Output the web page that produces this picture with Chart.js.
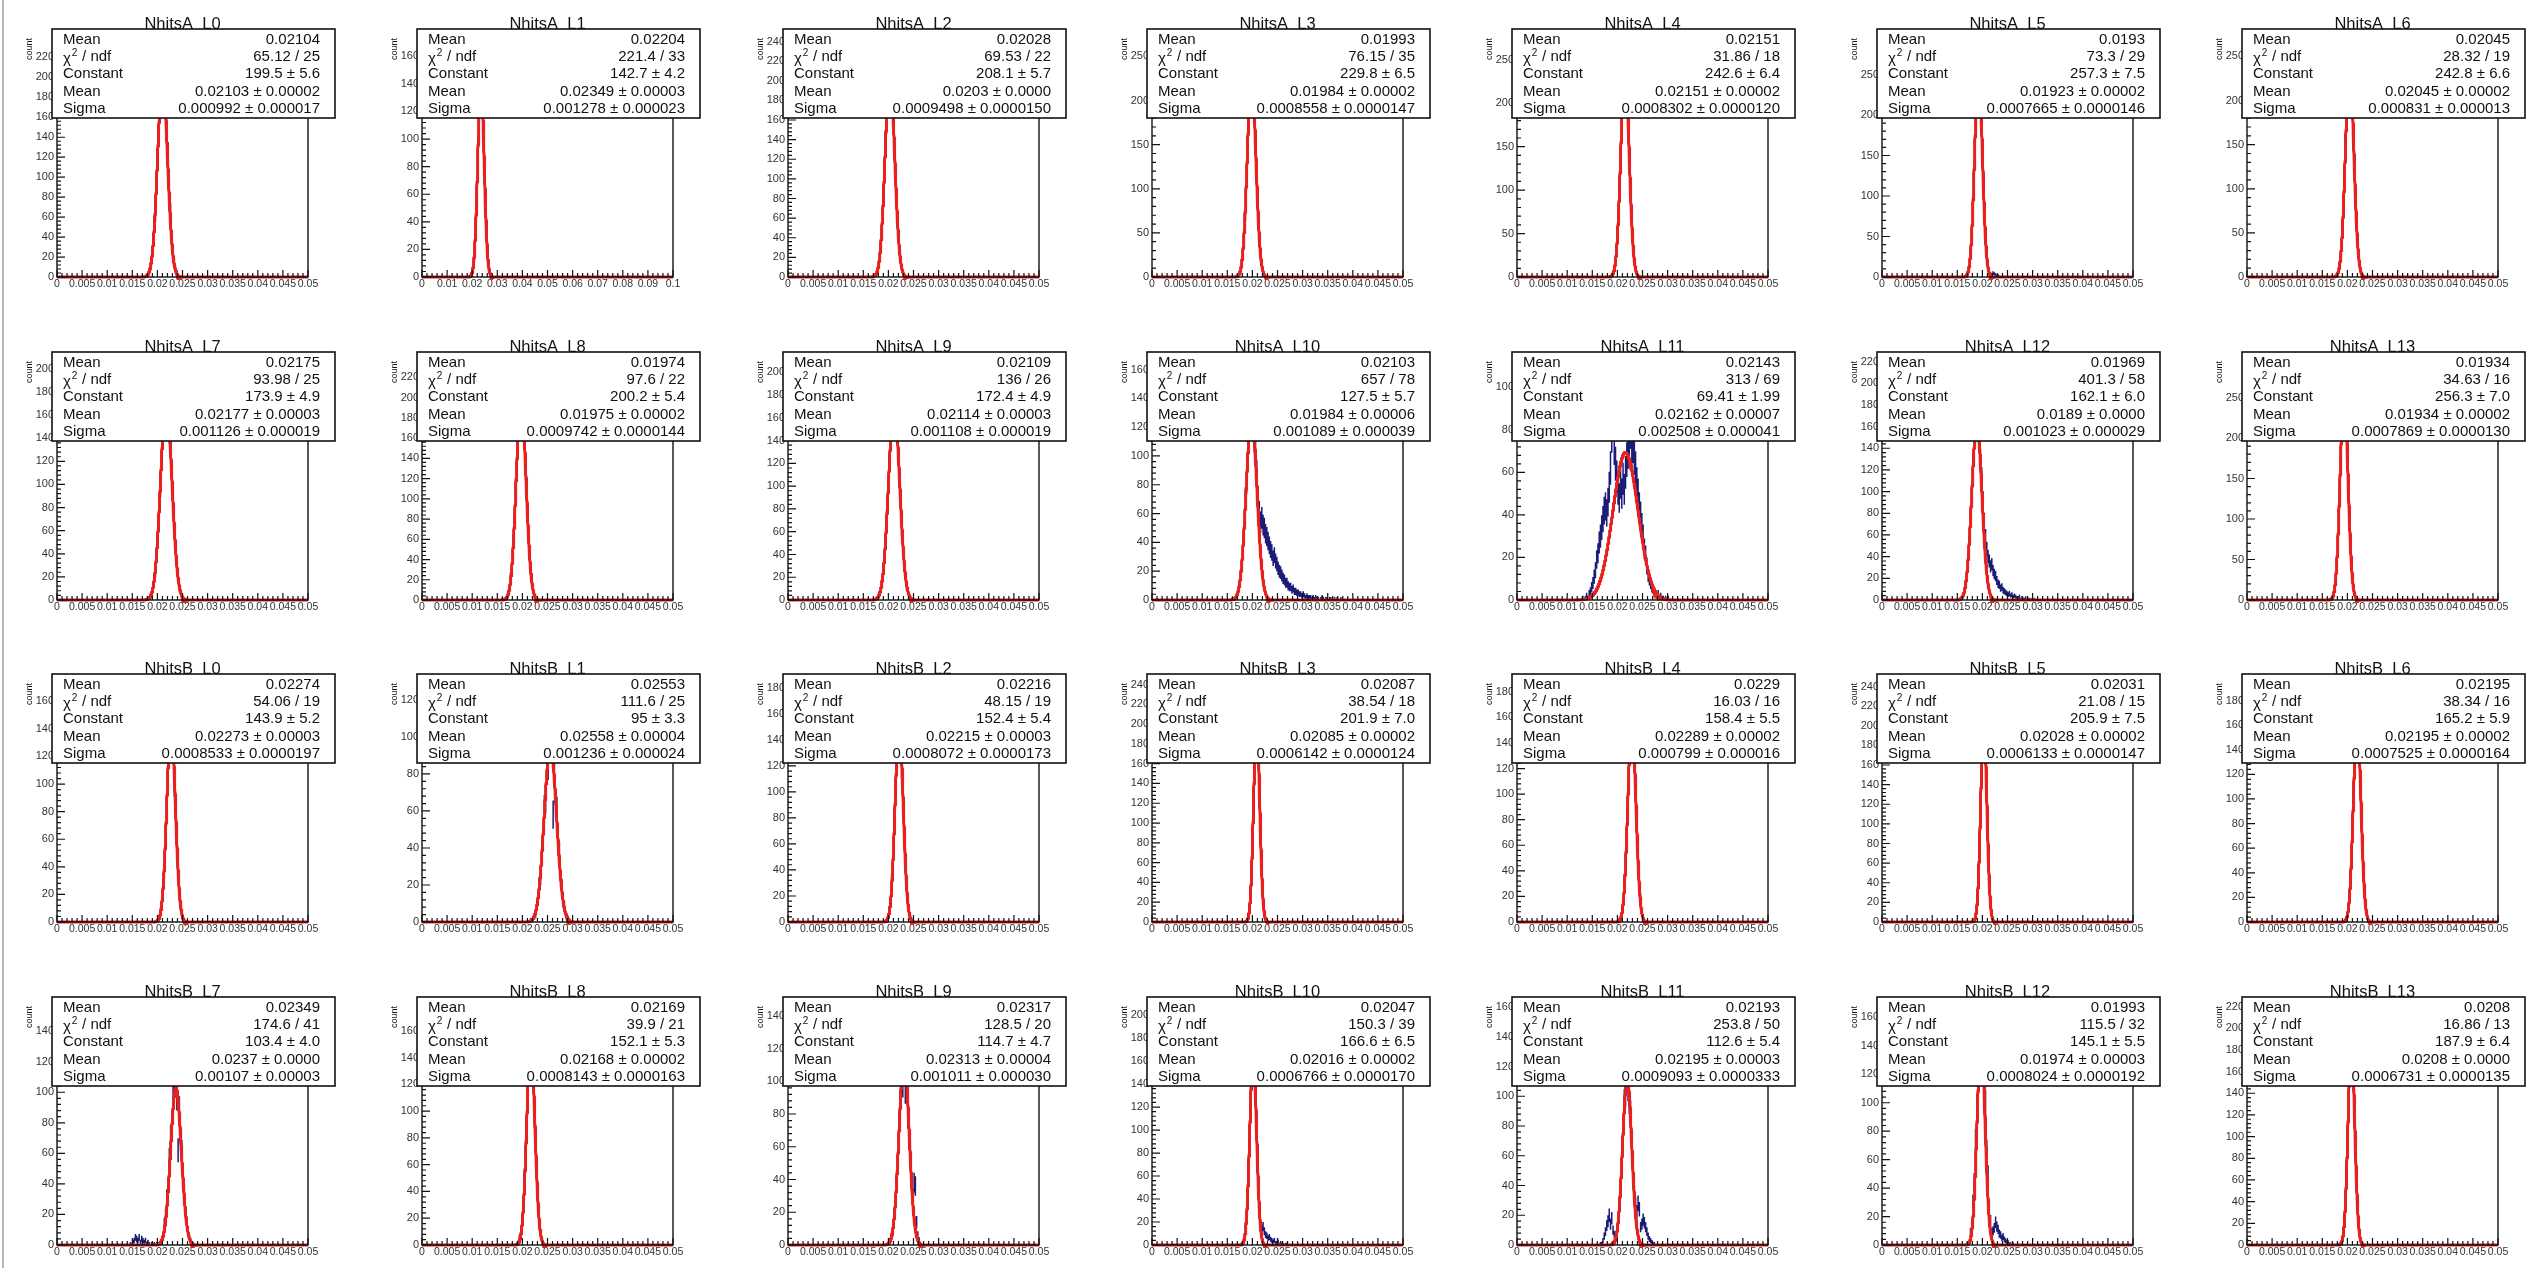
<!DOCTYPE html>
<html>
<head>
<meta charset="utf-8">
<script src="https://cdn.jsdelivr.net/npm/chart.js@4.4.1/dist/chart.umd.min.js"></script>
<style>
  html, body { margin: 0; padding: 0; background: #fff; }
  #canvasPad { position: relative; width: 2547px; height: 1268px; overflow: hidden; background: #fff; }
  #canvasPad canvas { position: absolute; }
  #edge { position: absolute; left: 2px; top: 0; width: 2px; height: 1268px; background: #b8b8b8; }
</style>
</head>
<body>
<div id="canvasPad"><div id="edge"></div></div>
<script>
// histograms use 0.00025 wide bins; most axes run 0..0.05, NhitsA_L1 runs 0..0.1
const BIN_WIDTH = 0.00025;
const xRange = [
  0.05, 0.1, 0.05, 0.05, 0.05, 0.05, 0.05,
  0.05, 0.05, 0.05, 0.05, 0.05, 0.05, 0.05,
  0.05, 0.05, 0.05, 0.05, 0.05, 0.05, 0.05,
  0.05, 0.05, 0.05, 0.05, 0.05, 0.05, 0.05
];
const xTickLabelsNarrow = ['0', '0.005', '0.01', '0.015', '0.02', '0.025', '0.03', '0.035', '0.04', '0.045', '0.05'];
const xTickLabelsWide = ['0', '0.01', '0.02', '0.03', '0.04', '0.05', '0.06', '0.07', '0.08', '0.09', '0.1'];

const titles = [
  'NhitsA_L0', 'NhitsA_L1', 'NhitsA_L2', 'NhitsA_L3', 'NhitsA_L4', 'NhitsA_L5', 'NhitsA_L6',
  'NhitsA_L7', 'NhitsA_L8', 'NhitsA_L9', 'NhitsA_L10', 'NhitsA_L11', 'NhitsA_L12', 'NhitsA_L13',
  'NhitsB_L0', 'NhitsB_L1', 'NhitsB_L2', 'NhitsB_L3', 'NhitsB_L4', 'NhitsB_L5', 'NhitsB_L6',
  'NhitsB_L7', 'NhitsB_L8', 'NhitsB_L9', 'NhitsB_L10', 'NhitsB_L11', 'NhitsB_L12', 'NhitsB_L13'
];

// stat box contents
const statMean = [
  0.02104, 0.02204, 0.02028, 0.01993, 0.02151, 0.0193, 0.02045,
  0.02175, 0.01974, 0.02109, 0.02103, 0.02143, 0.01969, 0.01934,
  0.02274, 0.02553, 0.02216, 0.02087, 0.0229, 0.02031, 0.02195,
  0.02349, 0.02169, 0.02317, 0.02047, 0.02193, 0.01993, 0.0208
];
const chi2 = [
  65.12, 221.4, 69.53, 76.15, 31.86, 73.3, 28.32,
  93.98, 97.6, 136, 657, 313, 401.3, 34.63,
  54.06, 111.6, 48.15, 38.54, 16.03, 21.08, 38.34,
  174.6, 39.9, 128.5, 150.3, 253.8, 115.5, 16.86
];
const ndf = [
  25, 33, 22, 35, 18, 29, 19,
  25, 22, 26, 78, 69, 58, 16,
  19, 25, 19, 18, 16, 15, 16,
  41, 21, 20, 39, 50, 32, 13
];
const constant = [
  199.5, 142.7, 208.1, 229.8, 242.6, 257.3, 242.8,
  173.9, 200.2, 172.4, 127.5, 69.41, 162.1, 256.3,
  143.9, 95, 152.4, 201.9, 158.4, 205.9, 165.2,
  103.4, 152.1, 114.7, 166.6, 112.6, 145.1, 187.9
];
const constantErr = [
  '5.6', '4.2', '5.7', '6.5', '6.4', '7.5', '6.6',
  '4.9', '5.4', '4.9', '5.7', '1.99', '6.0', '7.0',
  '5.2', '3.3', '5.4', '7.0', '5.5', '7.5', '5.9',
  '4.0', '5.3', '4.7', '6.5', '5.4', '5.5', '6.4'
];
const fitMean = [
  0.02103, 0.02349, 0.0203, 0.01984, 0.02151, 0.01923, 0.02045,
  0.02177, 0.01975, 0.02114, 0.01984, 0.02162, 0.0189, 0.01934,
  0.02273, 0.02558, 0.02215, 0.02085, 0.02289, 0.02028, 0.02195,
  0.0237, 0.02168, 0.02313, 0.02016, 0.02195, 0.01974, 0.0208
];
const fitMeanErr = [
  '0.00002', '0.00003', '0.0000', '0.00002', '0.00002', '0.00002', '0.00002',
  '0.00003', '0.00002', '0.00003', '0.00006', '0.00007', '0.0000', '0.00002',
  '0.00003', '0.00004', '0.00003', '0.00002', '0.00002', '0.00002', '0.00002',
  '0.0000', '0.00002', '0.00004', '0.00002', '0.00003', '0.00003', '0.0000'
];
const sigma = [
  0.000992, 0.001278, 0.0009498, 0.0008558, 0.0008302, 0.0007665, 0.000831,
  0.001126, 0.0009742, 0.001108, 0.001089, 0.002508, 0.001023, 0.0007869,
  0.0008533, 0.001236, 0.0008072, 0.0006142, 0.000799, 0.0006133, 0.0007525,
  0.00107, 0.0008143, 0.001011, 0.0006766, 0.0009093, 0.0008024, 0.0006731
];
const sigmaErr = [
  '0.000017', '0.000023', '0.0000150', '0.0000147', '0.0000120', '0.0000146', '0.000013',
  '0.000019', '0.0000144', '0.000019', '0.000039', '0.000041', '0.000029', '0.0000130',
  '0.0000197', '0.000024', '0.0000173', '0.0000124', '0.000016', '0.0000147', '0.0000164',
  '0.00003', '0.0000163', '0.000030', '0.0000170', '0.0000333', '0.0000192', '0.0000135'
];

// first filled bin of each histogram, then the bin contents from there on
const binStart = [
  71, 78, 69, 68, 75, 67, 71,
  73, 66, 70, 66, 52, 63, 67,
  80, 86, 78, 75, 81, 73, 78,
  58, 76, 80, 72, 66, 68, 74
];
const binCounts = [
  [1,2,4,9,17,26,45,63,94,118,155,172,211,228,190,178,146,124,88,66,41,28,15,8,5,2,1],
  [2,3,5,6,11,15,26,33,49,60,82,93,114,124,139,165,146,131,127,108,97,77,63,44,35,22,15,11,6,5,2,2],
  [2,3,9,14,29,43,70,93,137,158,196,224,232,188,176,139,114,77,55,31,21,9,5,2],
  [1,2,5,13,23,47,72,116,151,199,236,258,221,184,152,103,73,40,24,11,6,2,1],
  [1,3,10,18,38,58,99,136,187,214,262,247,221,179,142,93,63,34,20,8,4,1],
  [2,6,12,30,50,92,131,190,236,281,252,212,173,119,82,47,24,12,6,4,3,5,4,3,2,2,1],
  [1,4,12,21,45,67,112,146,199,231,258,229,215,166,131,84,57,29,17,6,3,1],
  [1,2,6,9,18,25,43,55,84,99,131,152,158,181,197,162,147,133,104,88,60,46,27,19,10,7,3,2,1],
  [1,2,7,11,23,32,57,75,110,131,170,181,225,206,180,169,130,109,74,57,31,22,11,5,3,1],
  [1,2,5,7,14,20,35,47,71,87,118,131,159,172,200,163,151,140,109,93,64,52,30,22,12,7,4,2,1],
  [1,3,6,9,17,24,39,49,70,83,105,112,130,158,121,113,104,88,71,61,54,57,52,50,46,44,41,38,35,33,
   29,31,27,25,22,20,19,17,15,14,12,12,10,9,9,7,8,6,6,5,5,4,4,3,4,3,2,3,2,2,
   2,1,2,1,2,1,1,0,1,2,1,0,1,1,0,1,1,0,0,1,0,1,0,0,1],
  [1,0,1,2,1,3,4,6,8,11,14,19,22,27,30,34,38,42,44,41,46,53,62,78,107,72,64,58,52,48,
   55,50,57,52,60,66,70,76,80,71,73,67,62,55,50,44,40,35,30,24,21,16,12,10,8,6,5,4,3,2,
   3,1,2,1,1,0,1,0,1],
  [2,4,7,15,22,37,52,77,96,124,140,158,210,168,150,128,112,91,72,58,47,40,36,31,33,27,24,22,18,15,
   14,11,12,9,8,7,6,5,6,4,5,3,4,3,2,2,3,1,2,1,1,2,0,1,1,0,1,0,1],
  [2,4,11,21,46,73,123,165,219,252,281,236,208,152,114,66,41,19,10,4,1],
  [1,2,8,12,26,38,64,83,115,128,165,140,131,101,82,52,37,19,11,4,2,1],
  [1,0,2,3,4,9,12,20,25,38,45,61,67,83,86,101,123,97,58,81,64,60,42,37,23,19,11,8,4,3,2,1],
  [1,4,9,15,31,45,77,98,130,142,175,151,121,104,70,51,27,17,7,4,2],
  [1,3,12,26,61,97,154,186,230,178,148,89,55,23,11,3,1],
  [2,3,9,16,32,48,79,101,136,147,178,155,127,106,73,52,28,18,7,4,1],
  [1,5,16,34,74,113,170,196,232,171,131,77,43,17,7,2,1],
  [2,3,10,17,38,57,95,119,156,185,158,144,108,80,45,29,12,7,2,1],
  [1,0,2,3,5,4,3,5,2,4,3,2,3,1,2,1,0,1,0,1,0,1,0,1,2,4,6,14,19,31,
   38,56,70,79,96,104,149,98,62,88,70,61,42,34,21,15,8,5,3,1,1],
  [2,5,7,17,27,50,70,104,122,149,170,141,128,97,76,45,31,15,9,3,2],
  [1,2,6,8,17,22,39,50,72,84,103,100,139,96,118,80,66,55,38,29,38,36,14,6,3,1],
  [2,5,16,28,57,84,127,150,198,151,131,92,60,31,18,14,16,12,9,8,6,7,5,4,3,4,2,2,3,1,2,1,1,0,1,1],
  [1,1,3,6,9,13,16,20,14,18,10,7,6,9,14,27,37,58,72,95,103,153,107,98,88,62,50,34,27,22,
   28,24,12,14,17,15,12,9,6,4,3,2,1,1],
  [1,2,9,14,30,44,73,92,126,134,160,141,133,117,99,66,49,26,17,9,10,12,16,13,11,8,7,5,6,4,3,2,2,1,1,0,1],
  [1,3,8,21,39,75,110,158,182,210,163,134,86,55,26,13,4,2,1]
];

// pad layout: 7 columns x 4 rows, frame position inside each pad
const frameLeft = [57, 422, 788, 1152, 1517, 1882, 2247];
const frameBottom = [277, 600, 922, 1245];
const PAD_W = 364, PAD_H = 322;
const FRAME_X = 57, FRAME_TOP = 38, FRAME_W = 251, FRAME_BOTTOM = 277;
const FONT = "'Liberation Sans', Arial, Helvetica, sans-serif";
const FIT_RED = '#e8211f';
const HIST_BLUE = '#1a1c78';

function histPoints(k) {
  return binCounts[k].map((n, j) => ({ x: (binStart[k] + j + 0.5) * BIN_WIDTH, y: n }));
}

// gaus fit evaluated with the parameters from the stat box
function fitPoints(k) {
  const pts = [];
  const n = 2000;
  for (let i = 0; i <= n; i++) {
    const x = xRange[k] * i / n;
    const u = (x - fitMean[k]) / sigma[k];
    pts.push({ x: x, y: constant[k] * Math.exp(-0.5 * u * u) });
  }
  return pts;
}

const rootPad = {
  id: 'rootPad',
  // histogram drawn as error crosses, under the fit line
  beforeDatasetsDraw(chart) {
    const { ctx, chartArea: a, scales: { x, y } } = chart;
    const hist = chart.data.datasets[1].data;
    ctx.save();
    ctx.beginPath();
    ctx.rect(a.left, a.top, a.right - a.left, a.bottom - a.top + 1);
    ctx.clip();
    ctx.strokeStyle = HIST_BLUE;
    ctx.lineWidth = 1.5;
    ctx.beginPath();
    hist.forEach(p => {
      if (p.y <= 0) return;
      const e = Math.sqrt(p.y);
      const yc = y.getPixelForValue(p.y);
      const xc = x.getPixelForValue(p.x);
      ctx.moveTo(x.getPixelForValue(p.x - BIN_WIDTH / 2), yc);
      ctx.lineTo(x.getPixelForValue(p.x + BIN_WIDTH / 2), yc);
      ctx.moveTo(xc, y.getPixelForValue(p.y - e));
      ctx.lineTo(xc, y.getPixelForValue(p.y + e));
    });
    ctx.stroke();
    ctx.restore();
  },
  // frame and inward tick marks
  afterDatasetsDraw(chart) {
    const { ctx, chartArea: a, scales: { x, y } } = chart;
    ctx.save();
    ctx.strokeStyle = '#111';
    ctx.lineWidth = 1.4;
    ctx.strokeRect(a.left, a.top, a.right - a.left, a.bottom - a.top);
    ctx.lineWidth = 1.2;
    ctx.beginPath();
    for (let i = 0; i <= 50; i++) {
      const px = x.getPixelForValue(x.max * i / 50);
      const len = i % 5 === 0 ? 7 : 4;
      ctx.moveTo(px, a.bottom);
      ctx.lineTo(px, a.bottom - len);
    }
    const step = y.options.ticks.stepSize;
    const minor = step / 5;
    for (let v = 0, i = 0; v <= y.max; v += minor, i++) {
      const py = y.getPixelForValue(v);
      const len = i % 5 === 0 ? 8 : 4;
      ctx.moveTo(a.left, py);
      ctx.lineTo(a.left + len, py);
    }
    ctx.stroke();
    ctx.restore();
  },
  // title, axis title and stat box
  afterDraw(chart, args, opts) {
    const k = opts.k;
    const { ctx, chartArea: a } = chart;
    ctx.save();
    ctx.fillStyle = '#111';
    ctx.font = '16.5px ' + FONT;
    ctx.textAlign = 'center';
    ctx.textBaseline = 'alphabetic';
    ctx.fillText(titles[k], (a.left + a.right) / 2, a.top - 9);

    ctx.save();
    ctx.translate(a.left - 27, a.top);
    ctx.rotate(-Math.PI / 2);
    ctx.font = '9px ' + FONT;
    ctx.textAlign = 'right';
    ctx.textBaseline = 'middle';
    ctx.fillText('count', 0, 0);
    ctx.restore();

    const bx = a.left - 5, by = a.top - 9, bw = 283, bh = 89;
    ctx.fillStyle = '#fff';
    ctx.fillRect(bx, by, bw, bh);
    ctx.strokeStyle = '#111';
    ctx.lineWidth = 1.6;
    ctx.strokeRect(bx, by, bw, bh);

    const labels = ['Mean', null, 'Constant', 'Mean', 'Sigma'];
    const values = [
      String(statMean[k]),
      chi2[k] + ' / ' + ndf[k],
      constant[k] + ' \u00b1 ' + constantErr[k],
      fitMean[k] + ' \u00b1 ' + fitMeanErr[k],
      sigma[k] + ' \u00b1 ' + sigmaErr[k]
    ];
    ctx.fillStyle = '#111';
    ctx.textBaseline = 'middle';
    for (let r = 0; r < 5; r++) {
      const cy = by + 10.5 + r * 17.3;
      ctx.font = '15px ' + FONT;
      ctx.textAlign = 'left';
      if (labels[r]) {
        ctx.fillText(labels[r], bx + 11, cy);
      } else {
        const w = ctx.measureText('\u03c7').width;
        ctx.fillText('\u03c7', bx + 11, cy + 2);
        ctx.font = '10px ' + FONT;
        ctx.fillText('2', bx + 12 + w, cy - 4);
        ctx.font = '15px ' + FONT;
        ctx.fillText(' / ndf', bx + 12 + w + 6, cy);
      }
      ctx.textAlign = 'right';
      ctx.fillText(values[r], bx + bw - 15, cy);
    }
    ctx.restore();
  }
};

const pad = document.getElementById('canvasPad');

titles.forEach((t, k) => {
  const row = Math.floor(k / 7), col = k % 7;
  const canvas = document.createElement('canvas');
  canvas.width = PAD_W;
  canvas.height = PAD_H;
  canvas.style.left = (frameLeft[col] - FRAME_X) + 'px';
  canvas.style.top = (frameBottom[row] - FRAME_BOTTOM) + 'px';
  canvas.style.width = PAD_W + 'px';
  canvas.style.height = PAD_H + 'px';
  pad.appendChild(canvas);

  const yMax = 1.05 * Math.max(...binCounts[k]);
  const yStep = yMax > 250 ? 50 : 20;
  const xLabels = xRange[k] > 0.05 ? xTickLabelsWide : xTickLabelsNarrow;

  new Chart(canvas, {
    type: 'line',
    data: {
      datasets: [
        { label: 'gaus', data: fitPoints(k), borderColor: FIT_RED, borderWidth: 3,
          pointRadius: 0, fill: false, tension: 0, order: 0, clip: 3 },
        { label: t, data: histPoints(k), showLine: false, pointRadius: 0, order: 1 }
      ]
    },
    options: {
      responsive: false,
      animation: false,
      devicePixelRatio: 1,
      layout: { padding: { left: 0, top: FRAME_TOP, right: PAD_W - FRAME_X - FRAME_W, bottom: 0 } },
      plugins: { legend: { display: false }, tooltip: { enabled: false }, rootPad: { k: k } },
      scales: {
        x: {
          type: 'linear', min: 0, max: xRange[k],
          grid: { display: false, drawTicks: false },
          border: { display: false },
          ticks: {
            stepSize: xRange[k] / 10, autoSkip: false, maxRotation: 0, minRotation: 0, padding: 1,
            color: '#333', font: { family: FONT, size: 10.5 },
            callback: (v, i) => xLabels[i]
          },
          afterFit: s => { s.height = PAD_H - FRAME_BOTTOM; }
        },
        y: {
          type: 'linear', min: 0, max: yMax,
          grid: { display: false, drawTicks: false },
          border: { display: false },
          ticks: {
            stepSize: yStep, includeBounds: false, padding: 3,
            color: '#333', font: { family: FONT, size: 11 },
            callback: v => String(v)
          },
          afterFit: s => { s.width = FRAME_X; }
        }
      }
    },
    plugins: [rootPad]
  });
});
</script>
</body>
</html>
